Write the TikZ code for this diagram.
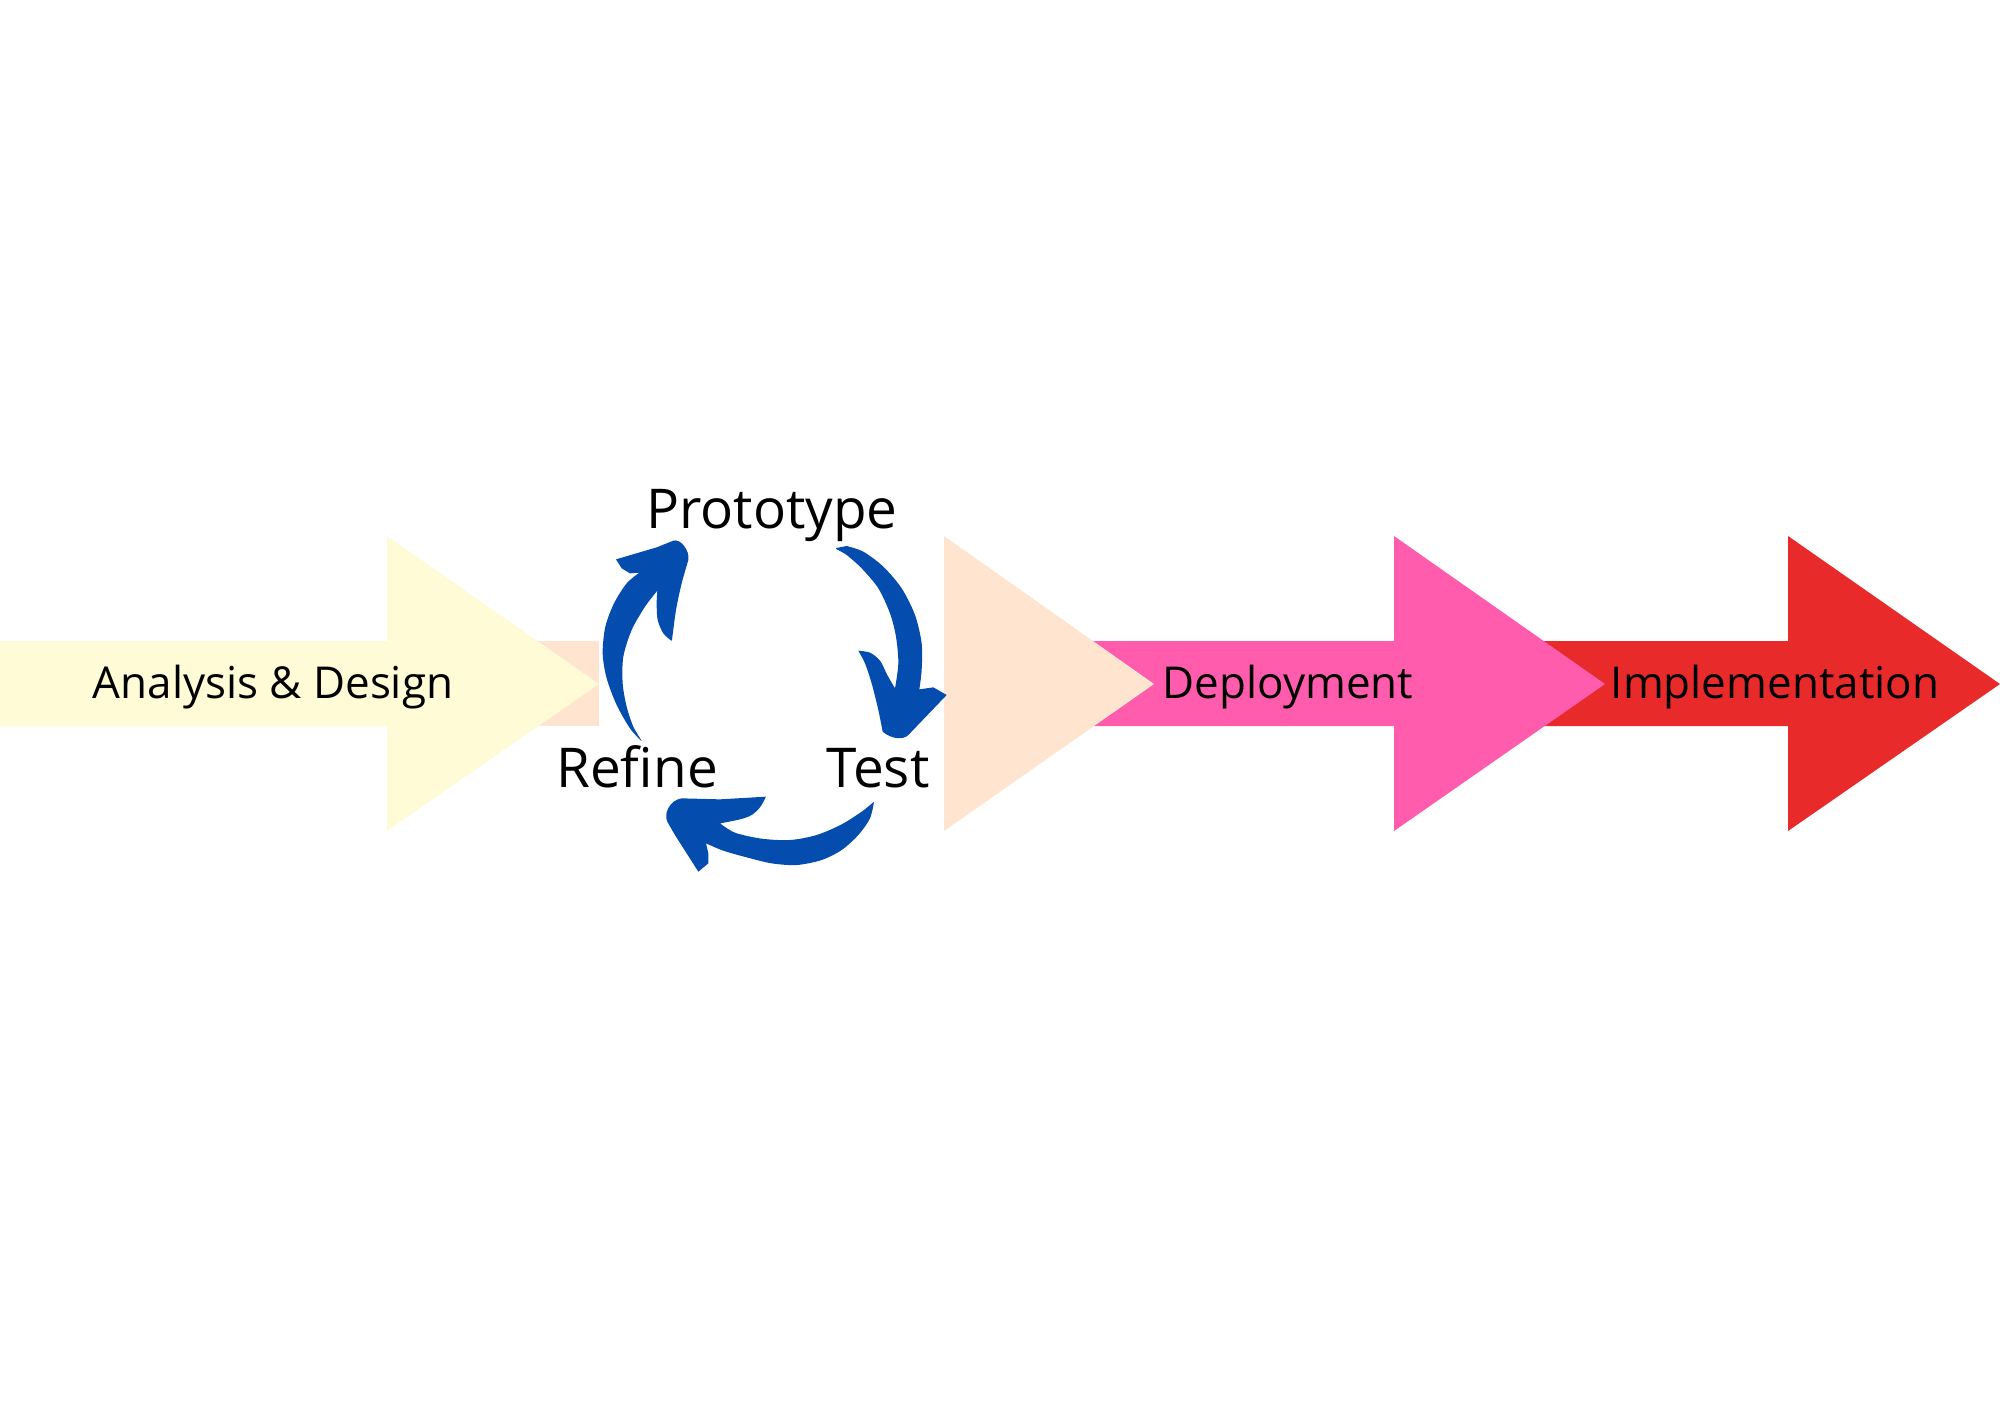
\documentclass[tikz,border=0pt]{standalone}
\usepackage{fontspec}
\setmainfont{Open Sans}

\definecolor{analysiscol}{RGB}{255,251,214}
\definecolor{prototypecol}{RGB}{255,228,208}
\definecolor{deploycol}{RGB}{255,92,173}
\definecolor{implcol}{RGB}{232,42,43}
\definecolor{cyclecol}{RGB}{4,76,173}

\tikzset{
  stagelabel/.style={font=\fontsize{12.5}{15}\selectfont, inner sep=0pt, anchor=base},
  cyclelabel/.style={font=\fontsize{15.6}{19}\selectfont, inner sep=0pt, anchor=base},
  cyclearrow/.style={fill=cyclecol}
}

\begin{document}
\begin{tikzpicture}[x=0.01cm, y=-0.01cm]
    \useasboundingbox (0,0) rectangle (2000,1414);

    % big stage arrows, from back to front
    \fill[implcol] (1544,641) -- (1788,641) -- (1788,536) -- (2000,684) -- (1788,831) -- (1788,726) -- (1544,726) -- cycle;
    \fill[deploycol] (1093,641) -- (1394,641) -- (1394,536) -- (1605,684) -- (1394,831) -- (1394,726) -- (1093,726) -- cycle;
    \fill[prototypecol] (944,536) -- (1154,684) -- (944,831) -- cycle;
    \fill[prototypecol] (530,641) rectangle (599,726);
    \fill[analysiscol] (0,641) -- (387,641) -- (387,536) -- (599,684) -- (387,831) -- (387,726) -- (0,726) -- cycle;

    % cycle arrows
    \begin{scope}[shift={(580,470)}, scale=1/3]
        % refine -> prototype
        \fill[cyclearrow] plot[smooth] coordinates {(183,812) (150,775) (110,705) (80,625) (68,550) (76,470) (102,400) (140,340) (178,308)}
            -- (150,310) -- (125,295) -- (108,268) -- (230,232) -- (280,212)
            .. controls (300,205) and (330,240) .. (325,270)
            -- plot[smooth] coordinates {(325,270) (305,340) (288,420) (276,510)}
            -- plot[smooth] coordinates {(274,512) (250,490) (233,450) (230,400) (232,362)}
            -- plot[smooth] coordinates {(232,362) (195,410) (155,480) (130,560) (128,640) (140,710) (160,770) (185,812)}
            -- cycle;
        % prototype -> test
        \fill[cyclearrow] (768,234) -- (800,228)
            -- plot[smooth] coordinates {(800,228) (850,245) (910,290) (965,355) (1005,435) (1025,520) (1025,600) (1018,658)}
            -- (1060,652) -- (1100,675) -- (985,795)
            .. controls (970,810) and (935,808) .. (908,785)
            -- plot[smooth] coordinates {(908,785) (895,720) (875,640) (855,580) (835,542)}
            -- plot[smooth] coordinates {(835,542) (870,548) (900,572) (922,615) (945,655)}
            -- plot[smooth] coordinates {(945,655) (955,580) (948,500) (930,430) (895,355) (845,295) (800,255) (770,238)}
            -- cycle;
        % test -> refine
        \fill[cyclearrow] plot[smooth] coordinates {(882,995) (870,1045) (835,1095) (785,1140) (725,1170) (650,1185) (575,1180) (500,1162) (430,1142) (378,1120)}
            -- (385,1150) -- (385,1180) -- (355,1205)
            -- plot[smooth] coordinates {(355,1205) (320,1150) (285,1095) (262,1055)}
            .. controls (250,1030) and (270,990) .. (305,985)
            -- (420,988) -- (558,980)
            -- plot[smooth] coordinates {(558,980) (540,1012) (515,1035) (480,1048) (420,1060)}
            -- plot[smooth] coordinates {(420,1060) (465,1088) (545,1106) (630,1110) (710,1095) (785,1063) (845,1025) (882,995)}
            -- cycle;
    \end{scope}

    % labels
    \node[stagelabel] (analysis) at (273,698) {Analysis \& Design};
    \node[stagelabel] (deploy) at (1288,698) {Deployment};
    \node[stagelabel] (impl) at (1775,698) {Implementation};
    \node[cyclelabel] (proto) at (772,528) {Prototype};
    \node[cyclelabel] (refine) at (637,787) {Refine};
    \node[cyclelabel] (test) at (878,787) {Test};
\end{tikzpicture}
\end{document}
